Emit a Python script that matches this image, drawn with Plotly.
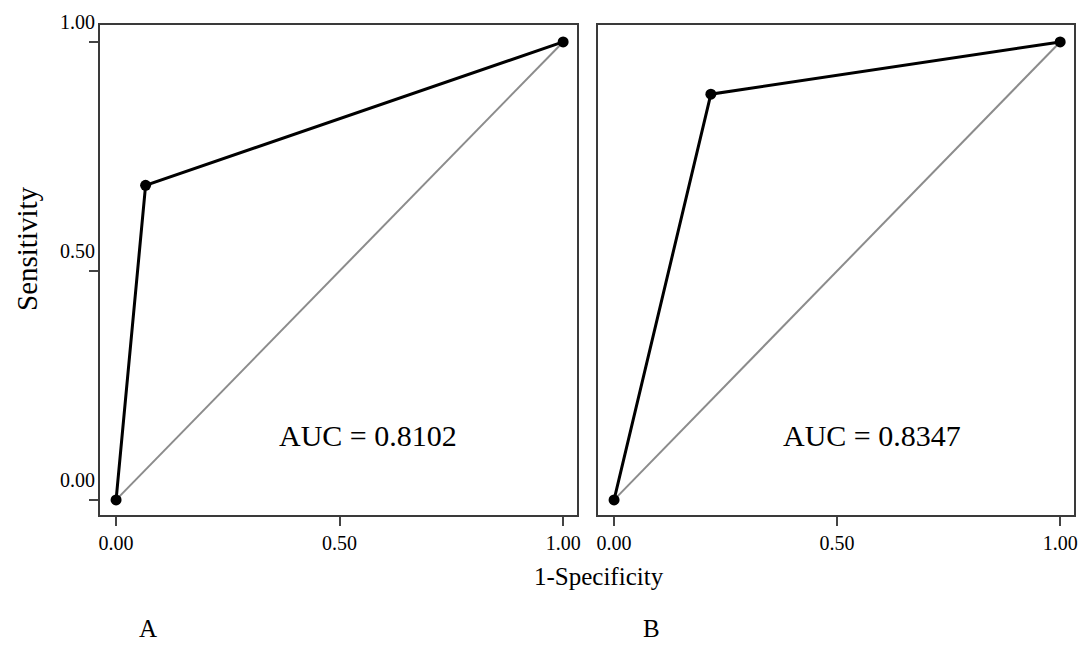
import plotly.graph_objects as go

# ROC data (1-Specificity, Sensitivity)
fpr_a = [0.0, 0.066, 1.0]
sens_a = [0.0, 0.687, 1.0]
fpr_b = [0.0, 0.217, 1.0]
sens_b = [0.0, 0.886, 1.0]
diag = [0.0, 1.0]
auc_labels = ["AUC = 0.8102", "AUC = 0.8347"]
panel_labels = ["A", "B"]
tick_vals = [0.0, 0.5, 1.0]
tick_text = ["0.00", "0.50", "1.00"]

W, H = 1079, 646
fig = go.Figure()

for i, (fx, sy) in enumerate([(fpr_a, sens_a), (fpr_b, sens_b)]):
    xa = "x" if i == 0 else "x2"
    ya = "y" if i == 0 else "y2"
    fig.add_trace(go.Scatter(x=diag, y=diag, mode="lines",
                             line=dict(color="#8c8c8c", width=2),
                             xaxis=xa, yaxis=ya, showlegend=False, hoverinfo="skip"))
    fig.add_trace(go.Scatter(x=fx, y=sy, mode="lines+markers",
                             line=dict(color="#000000", width=3),
                             marker=dict(color="#000000", size=11),
                             xaxis=xa, yaxis=ya, showlegend=False))

font_main = "Liberation Serif"
axis_common = dict(showline=True, mirror=True, linecolor="#3a3a3a", linewidth=2,
                   showgrid=False, zeroline=False, ticks="outside", ticklen=9,
                   tickwidth=2, tickcolor="#444", tickvals=tick_vals, ticktext=tick_text,
                   tickfont=dict(family=font_main, size=20, color="#000"),
                   automargin=False)

xr = [-0.036, 1.031]
yr = [-0.033, 1.037]
fig.update_layout(
    width=W, height=H,
    margin=dict(l=0, r=0, t=0, b=0),
    paper_bgcolor="white", plot_bgcolor="white",
    xaxis=dict(domain=[100 / W, 577 / W], range=xr, anchor="y", **axis_common),
    yaxis=dict(domain=[1 - 515 / H, 1 - 25 / H], range=yr, anchor="x",
               ticklabelshift=-20, ticklabelstandoff=-10, **axis_common),
    xaxis2=dict(domain=[598 / W, 1074 / W], range=xr, anchor="y2", **axis_common),
    yaxis2=dict(domain=[1 - 515 / H, 1 - 25 / H], range=yr, anchor="x2",
                **{**axis_common, "ticks": "", "showticklabels": False}),
)

def ann(text, x, y, xref, yref, size, angle=0):
    return dict(text=text, x=x, y=y, xref=xref, yref=yref, showarrow=False,
                xanchor="center", yanchor="middle", textangle=angle,
                font=dict(family=font_main, size=size, color="#000"))

annotations = [
    ann(auc_labels[0], 0.564, 0.14, "x", "y", 30),
    ann(auc_labels[1], 0.578, 0.14, "x2", "y2", 30),
    ann("1-Specificity", 599 / W, 1 - 576 / H, "paper", "paper", 25),
    ann("Sensitivity", 27 / W, 1 - 249 / H, "paper", "paper", 29, -90),
    ann(panel_labels[0], 148 / W, 1 - 628 / H, "paper", "paper", 25),
    ann(panel_labels[1], 651 / W, 1 - 628 / H, "paper", "paper", 25),
]
fig.update_layout(annotations=annotations)

fig.write_html("out.html", config={"displayModeBar": False},
               post_script="document.body.style.margin='0px';")
